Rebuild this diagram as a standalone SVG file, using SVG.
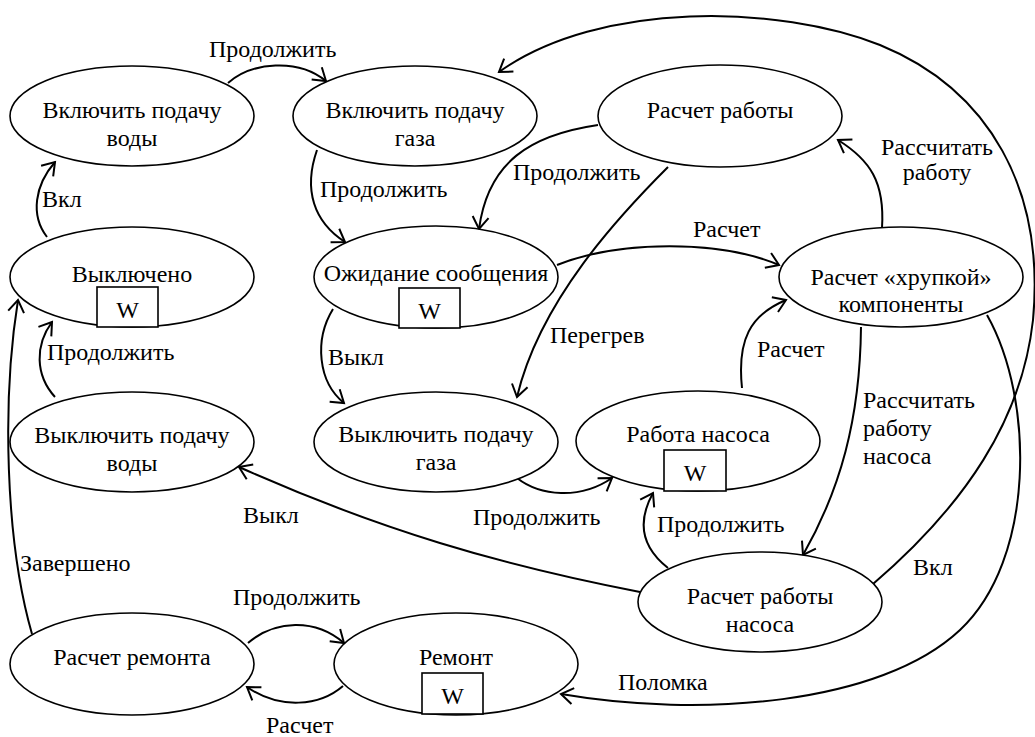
<svg xmlns="http://www.w3.org/2000/svg" width="1035" height="737" viewBox="0 0 1035 737" font-family="'Liberation Serif', 'Times New Roman', Tinos, 'DejaVu Serif', 'Noto Serif', serif" font-size="24">
  <style>
    .state { fill: #fff; stroke: #000; stroke-width: 1.6; }
    .wbox { fill: #fff; stroke: #000; stroke-width: 1.6; }
    .name { text-anchor: middle; }
    .edge { fill: none; stroke: #000; stroke-width: 2; marker-end: url(#arrow); }
  </style>
  <defs>
    <marker id="arrow" markerUnits="userSpaceOnUse" markerWidth="30" markerHeight="30" refX="15" refY="15" orient="auto" viewBox="0 0 30 30">
      <path d="M3,7 L15,15 L3,23" fill="none" stroke="#000" stroke-width="2"/>
    </marker>
  </defs>
  <rect width="1035" height="737" fill="#fff"/>

  <!-- transitions -->
  <g id="connectors">
    <path class="edge" d="M228,83 C252,62 298,58 326,81"/>
    <path class="edge" d="M317,150 C303,190 314,222 345,242"/>
    <path class="edge" d="M598,125 C530,135 488,162 479,229"/>
    <path class="edge" d="M668,167 C620,215 540,300 517,397"/>
    <path class="edge" d="M557,265 C620,240 720,240 779,265"/>
    <path class="edge" d="M333,309 C314,340 318,382 344,403"/>
    <path class="edge" d="M517,478 C540,496 580,500 612,478"/>
    <path class="edge" d="M742,388 C737,340 750,315 786,300"/>
    <path class="edge" d="M882,228 C885,182 870,160 838,140"/>
    <path class="edge" d="M861,327 C860,420 840,490 803,555"/>
    <path class="edge" d="M668,568 C640,546 638,520 653,493"/>
    <path class="edge" d="M640,592 C500,565 380,530 239,467"/>
    <path class="edge" d="M873,584 C965,505 1022,420 1033,320 C1045,190 990,90 880,45 C780,5 600,0 499,72"/>
    <path class="edge" d="M987,315 C1035,400 1035,560 960,630 C880,705 700,718 561,694"/>
    <path class="edge" d="M248,643 C275,620 315,618 344,643"/>
    <path class="edge" d="M343,686 C320,706 280,710 247,687"/>
    <path class="edge" d="M32,634 C5,540 2,400 18,300"/>
    <path class="edge" d="M55,397 C35,375 35,345 52,322"/>
    <path class="edge" d="M47,237 C30,215 35,185 55,162"/>

    <text x="209" y="57">Продолжить</text>
    <text x="42" y="207">Вкл</text>
    <text x="320" y="197">Продолжить</text>
    <text x="513" y="180">Продолжить</text>
    <text x="937" y="155" text-anchor="middle">Рассчитать</text>
    <text x="937" y="180" text-anchor="middle">работу</text>
    <text x="693" y="237">Расчет</text>
    <text x="550" y="343">Перегрев</text>
    <text x="328" y="365">Выкл</text>
    <text x="47" y="360">Продолжить</text>
    <text x="757" y="357">Расчет</text>
    <text x="863" y="408">Рассчитать</text>
    <text x="863" y="436">работу</text>
    <text x="863" y="464">насоса</text>
    <text x="243" y="523">Выкл</text>
    <text x="473" y="525">Продолжить</text>
    <text x="657" y="532">Продолжить</text>
    <text x="913" y="575">Вкл</text>
    <text x="20" y="571">Завершено</text>
    <text x="233" y="605">Продолжить</text>
    <text x="618" y="690">Поломка</text>
    <text x="266" y="733">Расчет</text>
  </g>

  <!-- states -->
  <g id="water-on">
    <ellipse class="state" cx="132" cy="116" rx="122" ry="50"/>
    <text class="name" x="132" y="118">Включить подачу</text>
    <text class="name" x="132" y="146">воды</text>
  </g>
  <g id="gas-on">
    <ellipse class="state" cx="415" cy="116" rx="122" ry="50"/>
    <text class="name" x="415" y="118">Включить подачу</text>
    <text class="name" x="415" y="146">газа</text>
  </g>
  <g id="work-calc">
    <ellipse class="state" cx="720" cy="116" rx="122" ry="51"/>
    <text class="name" x="720" y="118">Расчет работы</text>
  </g>
  <g id="off">
    <ellipse class="state" cx="132" cy="277" rx="122" ry="50"/>
    <text class="name" x="132" y="282">Выключено</text>
    <rect class="wbox" x="97" y="287" width="61" height="40"/>
    <text class="name" x="127.5" y="318">W</text>
  </g>
  <g id="waiting">
    <ellipse class="state" cx="436" cy="277" rx="122" ry="51"/>
    <text class="name" x="436" y="281">Ожидание сообщения</text>
    <rect class="wbox" x="399" y="288" width="61" height="40"/>
    <text class="name" x="429.5" y="319">W</text>
  </g>
  <g id="fragile-calc">
    <ellipse class="state" cx="901" cy="277" rx="122" ry="50"/>
    <text class="name" x="901" y="285">Расчет «хрупкой»</text>
    <text class="name" x="901" y="312">компоненты</text>
  </g>
  <g id="water-off">
    <ellipse class="state" cx="132" cy="442" rx="122" ry="50"/>
    <text class="name" x="132" y="443">Выключить подачу</text>
    <text class="name" x="132" y="471">воды</text>
  </g>
  <g id="gas-off">
    <ellipse class="state" cx="436" cy="442" rx="122" ry="50"/>
    <text class="name" x="436" y="442">Выключить подачу</text>
    <text class="name" x="436" y="470">газа</text>
  </g>
  <g id="pump">
    <ellipse class="state" cx="698" cy="441" rx="122" ry="50"/>
    <text class="name" x="698" y="442">Работа насоса</text>
    <rect class="wbox" x="664" y="450" width="62" height="41"/>
    <text class="name" x="695" y="481">W</text>
  </g>
  <g id="pump-calc">
    <ellipse class="state" cx="760" cy="602" rx="122" ry="50"/>
    <text class="name" x="760" y="604">Расчет работы</text>
    <text class="name" x="760" y="632">насоса</text>
  </g>
  <g id="repair-calc">
    <ellipse class="state" cx="132" cy="664" rx="122" ry="51"/>
    <text class="name" x="132" y="665">Расчет ремонта</text>
  </g>
  <g id="repair">
    <ellipse class="state" cx="456" cy="664" rx="122" ry="51"/>
    <text class="name" x="456" y="665">Ремонт</text>
    <rect class="wbox" x="422" y="673" width="61" height="41"/>
    <text class="name" x="452.5" y="704">W</text>
  </g>
</svg>
